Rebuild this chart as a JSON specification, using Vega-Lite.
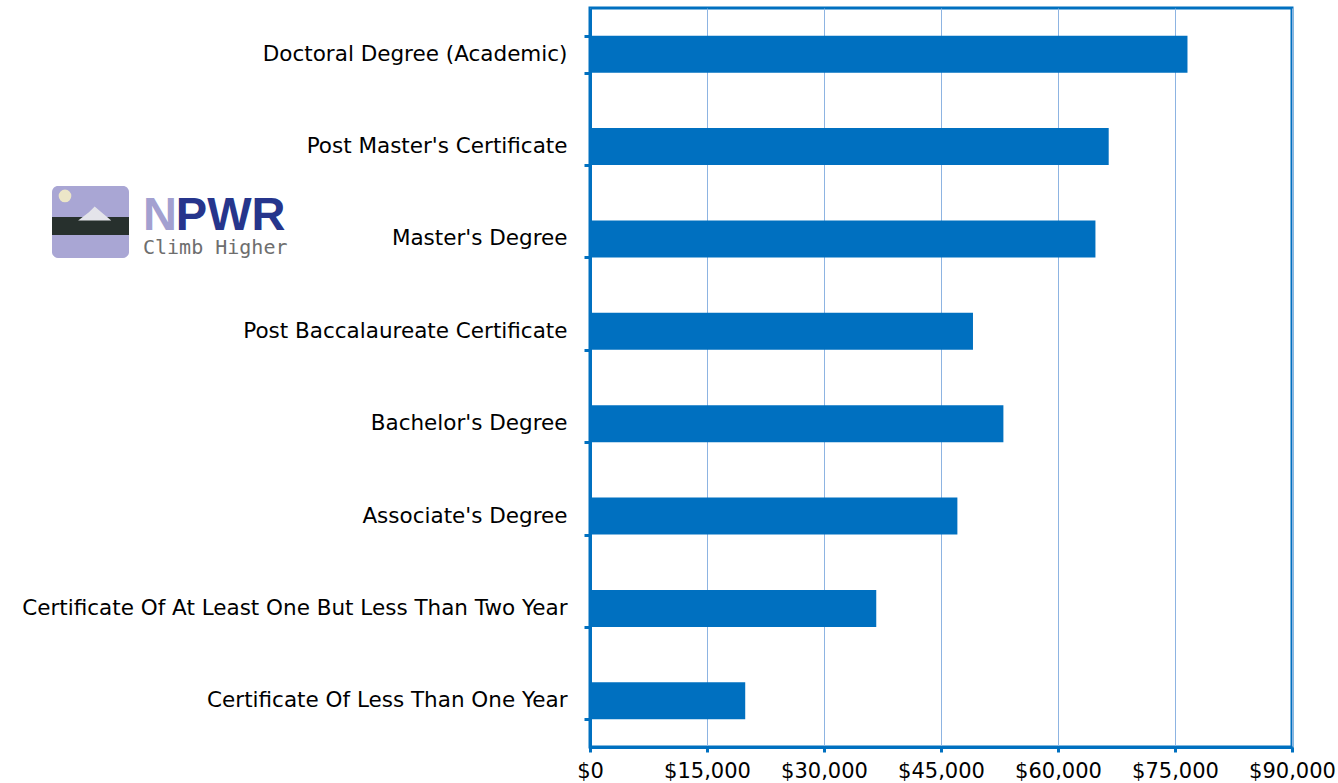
{
  "$schema": "https://vega.github.io/schema/vega-lite/v6.json",
  "width": 702,
  "height": 739,
  "autosize": {"type": "none"},
  "padding": {"left": 590, "top": 8, "right": 46, "bottom": 36},
  "background": "white",
  "config": {
    "view": {"stroke": "#0070C0", "strokeWidth": 3},
    "font": "DejaVu Sans"
  },
  "layer": [
    {
      "data": {
        "values": [
          {"credential": "Doctoral Degree (Academic)", "salary": 76600},
          {"credential": "Post Master's Certificate", "salary": 66500},
          {"credential": "Master's Degree", "salary": 64800},
          {"credential": "Post Baccalaureate Certificate", "salary": 49100},
          {"credential": "Bachelor's Degree", "salary": 53000},
          {"credential": "Associate's Degree", "salary": 47100},
          {"credential": "Certificate Of At Least One But Less Than Two Year", "salary": 36700},
          {"credential": "Certificate Of Less Than One Year", "salary": 19900}
        ]
      },
      "mark": {"type": "bar", "color": "#0070C0"},
      "encoding": {
        "y": {
          "field": "credential",
          "type": "nominal",
          "sort": null,
          "title": null,
          "scale": {
            "domain": [
              "Doctoral Degree (Academic)",
              "Post Master's Certificate",
              "Master's Degree",
              "Post Baccalaureate Certificate",
              "Bachelor's Degree",
              "Associate's Degree",
              "Certificate Of At Least One But Less Than Two Year",
              "Certificate Of Less Than One Year"
            ],
            "paddingInner": 0.6,
            "paddingOuter": 0.3
          },
          "axis": {
            "tickBand": "extent",
            "labelFontSize": 21.5,
            "labelColor": "black",
            "labelPadding": 17,
            "labelLimit": 700,
            "tickSize": 6,
            "tickColor": "#0070C0",
            "tickWidth": 3,
            "domainColor": "#0070C0",
            "domainWidth": 3,
            "grid": false
          }
        },
        "x": {
          "field": "salary",
          "type": "quantitative",
          "title": null,
          "scale": {"domain": [0, 90000], "nice": false},
          "axis": {
            "values": [0, 15000, 30000, 45000, 60000, 75000, 90000],
            "format": "$,d",
            "labelFontSize": 21,
            "labelColor": "black",
            "labelPadding": 8,
            "labelFlush": false,
            "labelOverlap": false,
            "grid": true,
            "gridColor": "#8DB4E2",
            "gridWidth": 1,
            "tickColor": "#0070C0",
            "tickWidth": 3,
            "tickSize": 5,
            "domainColor": "#0070C0",
            "domainWidth": 3
          }
        }
      }
    },
    {
      "data": {"values": [{"part": "frame"}]},
      "mark": {"type": "bar", "color": "#A9A6D4", "height": 72, "yOffset": -17, "cornerRadius": 6},
      "encoding": {
        "x": {"datum": -68974, "type": "quantitative", "title": null},
        "x2": {"datum": -59103},
        "y": {"datum": "Master's Degree", "type": "nominal", "title": null}
      }
    },
    {
      "data": {"values": [{"part": "trees"}]},
      "mark": {"type": "bar", "color": "#27302D", "height": 18, "yOffset": -13},
      "encoding": {
        "x": {"datum": -68974, "type": "quantitative", "title": null},
        "x2": {"datum": -59103},
        "y": {"datum": "Master's Degree", "type": "nominal", "title": null}
      }
    },
    {
      "data": {"values": [{"part": "mountain"}]},
      "mark": {"type": "point", "filled": true, "opacity": 1, "color": "#E4E4EA", "size": 1100, "yOffset": -25, "shape": "M-1,0.4 L-0.35,-0.1 L0,-0.45 L0.35,-0.15 L1,0.4 Z"},
      "encoding": {
        "x": {"datum": -63500, "type": "quantitative", "title": null},
        "y": {"datum": "Master's Degree", "type": "nominal", "title": null}
      }
    },
    {
      "data": {"values": [{"part": "sun"}]},
      "mark": {"type": "point", "shape": "circle", "filled": true, "opacity": 1, "color": "#ECE6C8", "size": 160, "yOffset": -43},
      "encoding": {
        "x": {"datum": -67308, "type": "quantitative", "title": null},
        "y": {"datum": "Master's Degree", "type": "nominal", "title": null}
      }
    },
    {
      "data": {"values": [{"t": "N"}]},
      "mark": {"type": "text", "font": "Liberation Sans", "fontWeight": "bold", "fontSize": 47, "align": "left", "baseline": "alphabetic", "dy": -9, "color": "#A3A0D0"},
      "encoding": {
        "x": {"datum": -57308, "type": "quantitative", "title": null},
        "y": {"datum": "Master's Degree", "type": "nominal", "title": null},
        "text": {"field": "t"}
      }
    },
    {
      "data": {"values": [{"t": "PWR"}]},
      "mark": {"type": "text", "font": "Liberation Sans", "fontWeight": "bold", "fontSize": 47, "align": "left", "baseline": "alphabetic", "dy": -9, "color": "#26358C"},
      "encoding": {
        "x": {"datum": -53100, "type": "quantitative", "title": null},
        "y": {"datum": "Master's Degree", "type": "nominal", "title": null},
        "text": {"field": "t"}
      }
    },
    {
      "data": {"values": [{"t": "Climb Higher"}]},
      "mark": {"type": "text", "font": "DejaVu Sans Mono", "fontSize": 20, "align": "left", "baseline": "alphabetic", "dy": 15, "color": "#6E6E6E"},
      "encoding": {
        "x": {"datum": -57308, "type": "quantitative", "title": null},
        "y": {"datum": "Master's Degree", "type": "nominal", "title": null},
        "text": {"field": "t"}
      }
    }
  ]
}
